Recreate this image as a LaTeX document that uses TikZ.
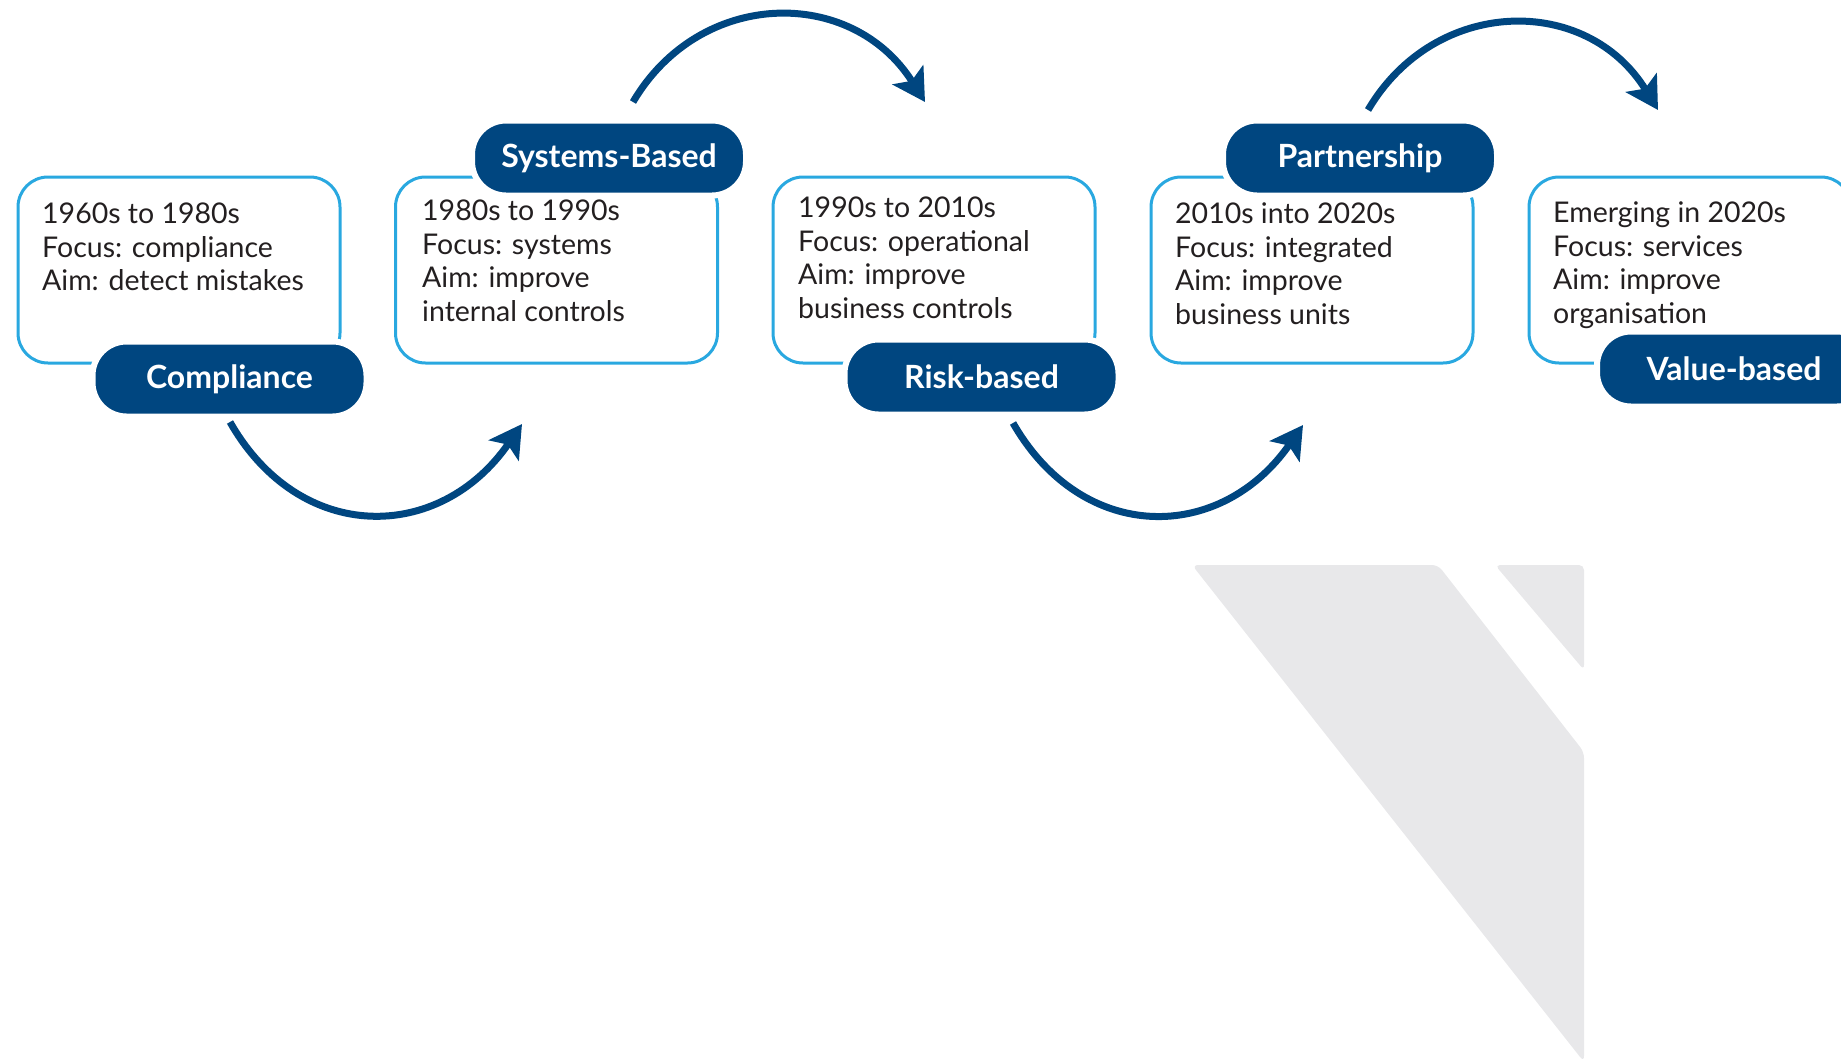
\documentclass[tikz,border=0pt]{standalone}
\usepackage{fontspec}
\setmainfont{Lato}
\usetikzlibrary{arrows.meta}
\definecolor{navy}{RGB}{0,70,128}
\definecolor{skyline}{RGB}{41,168,224}
\definecolor{ink}{RGB}{35,31,32}
\definecolor{ghost}{RGB}{232,232,234}

\begin{document}
\begin{tikzpicture}[x=1pt,y=-1pt,
  era/.style={draw=skyline, line width=3pt, rounded corners=30pt,
    minimum width=322pt, minimum height=186pt, inner sep=0pt, fill=white},
  notes/.style={anchor=north west, inner sep=0pt, align=left, text=ink,
    font=\fontsize{28.5}{33.5}\selectfont},
  tag/.style={fill=navy, draw=white, line width=6pt, rounded corners=34pt,
    minimum width=274pt, minimum height=75pt, text=white, inner sep=0pt,
    font=\fontsize{32}{32}\selectfont\bfseries},
  flow/.style={draw=navy, line width=7pt,
    -{Stealth[length=32pt,width=36pt,inset=7pt]}}
]
\path[use as bounding box] (0,0) rectangle (1841,1061);
\clip (0,0) rectangle (1841,1061);

% faint background emblem
\fill[ghost, rounded corners=6pt] (1192,565) -- (1438,565) -- (1584,752)
  -- (1584,1062) -- cycle;
\fill[ghost, rounded corners=5pt] (1495,565) -- (1584,565) -- (1584,670) -- cycle;

% arrow end points
\coordinate (a1s) at (230,422);  \coordinate (a1e) at (522,424);
\coordinate (a2s) at (633,102);  \coordinate (a2e) at (925,102);
\coordinate (a3s) at (1013,423); \coordinate (a3e) at (1303,425);
\coordinate (a4s) at (1368,110); \coordinate (a4e) at (1658,110);

\draw[flow] (a1s) .. controls (300,545) and (440,543) .. (a1e);
\draw[flow] (a2s) .. controls (700,-12) and (852,-14) .. (a2e);
\draw[flow] (a3s) .. controls (1083,545) and (1221,543) .. (a3e);
\draw[flow] (a4s) .. controls (1435,-4) and (1587,-6) .. (a4e);

% era boxes
\node[era] (b1) at (179,270) {};
\node[era] (b2) at (556.5,270) {};
\node[era] (b3) at (934,270) {};
\node[era] (b4) at (1312,270) {};
\node[era] (b5) at (1690,270) {};

\node[notes] (t1) at (42,203) {1960s to 1980s\\Focus: compliance\\Aim: detect mistakes};
\node[notes] (t2) at (422,200) {1980s to 1990s\\Focus: systems\\Aim: improve\\internal controls};
\node[notes] (t3) at (798,197) {1990s to 2010s\\Focus: operational\\Aim: improve\\business controls};
\node[notes] (t4) at (1175,203) {2010s into 2020s\\Focus: integrated\\Aim: improve\\business units};
\node[notes] (t5) at (1553,202) {Emerging in 2020s\\Focus: services\\Aim: improve\\organisation};

% stage labels
\node[tag] (p1) at (229.5,379) {Compliance};
\node[tag] (p2) at (609,158) {Systems-Based};
\node[tag] (p3) at (981.5,377) {Risk-based};
\node[tag] (p4) at (1360,158) {Partnership};
\node[tag] (p5) at (1734,369) {Value-based};
\end{tikzpicture}
\end{document}
